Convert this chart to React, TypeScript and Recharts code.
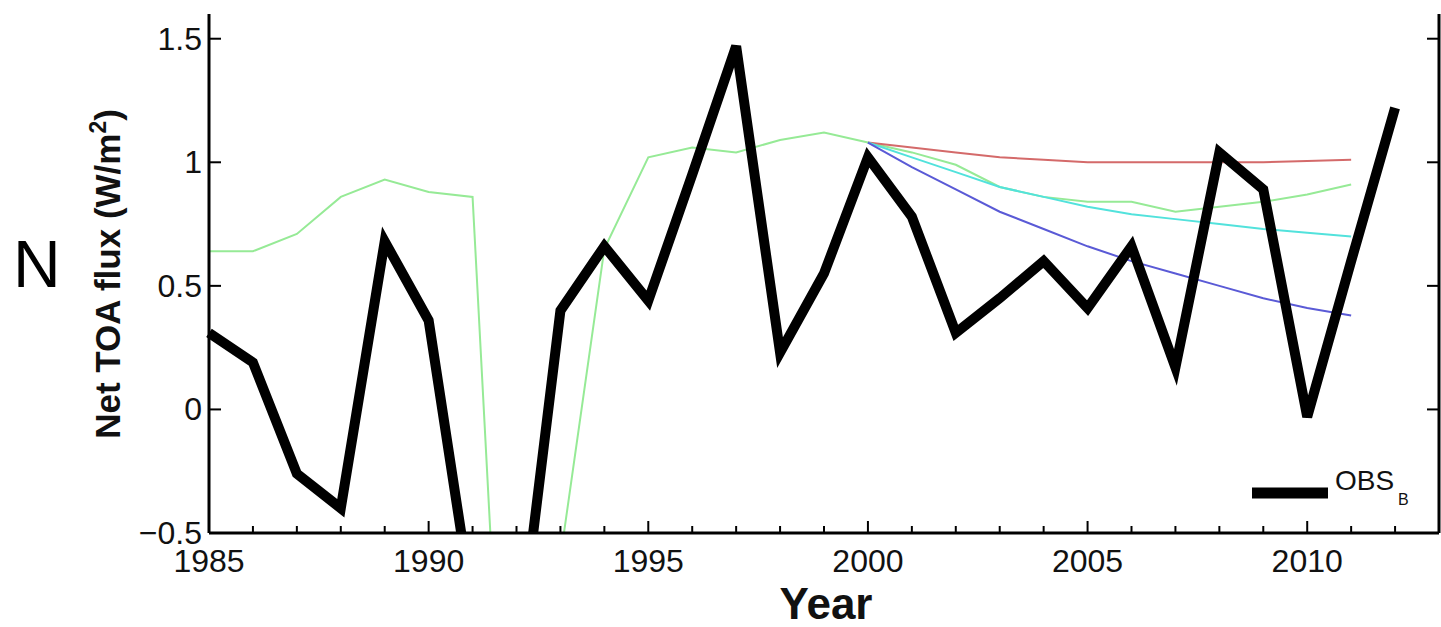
import { LineChart, Line, XAxis, YAxis } from "recharts"

// observed net TOA flux, yearly 1985..2012
const years = [
  1985, 1986, 1987, 1988, 1989, 1990, 1991, 1992, 1993, 1994, 1995, 1996, 1997, 1998,
  1999, 2000, 2001, 2002, 2003, 2004, 2005, 2006, 2007, 2008, 2009, 2010, 2011, 2012,
]
const obsB = [
  0.31, 0.19, -0.26, -0.4, 0.68, 0.36, -0.8, -1.05, 0.4, 0.66, 0.44, 0.95, 1.47, 0.23,
  0.55, 1.02, 0.78, 0.31, 0.45, 0.6, 0.41, 0.66, 0.17, 1.04, 0.89, -0.03, 0.6, 1.22,
]

// model run, 1985..2011
const greenYears = years.slice(0, 27)
const greenRun = [
  0.64, 0.64, 0.71, 0.86, 0.93, 0.88, 0.86, -2.5, -0.6, 0.65, 1.02, 1.06, 1.04, 1.09,
  1.12, 1.08, 1.04, 0.99, 0.9, 0.86, 0.84, 0.84, 0.8, 0.82, 0.84, 0.87, 0.91,
]

// projections from 2000 to 2011
const projYears = [2000, 2001, 2002, 2003, 2004, 2005, 2006, 2007, 2008, 2009, 2010, 2011]
const redRun = [1.08, 1.06, 1.04, 1.02, 1.01, 1.0, 1.0, 1.0, 1.0, 1.0, 1.005, 1.01]
const cyanRun = [1.08, 1.02, 0.96, 0.9, 0.86, 0.82, 0.79, 0.77, 0.75, 0.73, 0.715, 0.7]
const blueRun = [1.08, 0.98, 0.89, 0.8, 0.73, 0.66, 0.6, 0.55, 0.5, 0.45, 0.41, 0.38]

const xTicks = [...years, 2013]
const yTicks = [-0.5, 0, 0.5, 1, 1.5]

const pick = (ys: number[], vals: number[], y: number) => {
  const i = ys.indexOf(y)
  return i < 0 ? null : vals[i]
}

const data = years.map((year, i) => ({
  year,
  obs: obsB[i],
  green: pick(greenYears, greenRun, year),
  red: pick(projYears, redRun, year),
  cyan: pick(projYears, cyanRun, year),
  blue: pick(projYears, blueRun, year),
}))

const FONT = "'Liberation Sans', Arial, sans-serif"

function fmtY(v: number) {
  return v < 0 ? "\u2212" + Math.abs(v) : String(v)
}

function BottomTick(props: any) {
  const { x, y, payload } = props
  const major = payload.value % 5 === 0
  return (
    <g>
      <line x1={x} x2={x} y1={y} y2={y - (major ? 12 : 7)} stroke="#000" strokeWidth={2} />
      {major && payload.value < 2013 && (
        <text x={x} y={y + 39} textAnchor="middle" fontSize={32} fontFamily={FONT} fill="#111">
          {payload.value}
        </text>
      )}
    </g>
  )
}

function TopTick(props: any) {
  const { x, y, payload } = props
  const major = payload.value % 5 === 0
  return <line x1={x} x2={x} y1={y} y2={y + (major ? 13 : 8)} stroke="#000" strokeWidth={2} />
}

function LeftTick(props: any) {
  const { x, y, payload } = props
  return (
    <g>
      <line x1={x} x2={x + 12} y1={y} y2={y} stroke="#000" strokeWidth={2} />
      <text x={x - 7} y={y} textAnchor="end" dominantBaseline="central" fontSize={32} fontFamily={FONT} fill="#111">
        {fmtY(payload.value)}
      </text>
    </g>
  )
}

function RightTick(props: any) {
  const { x, y } = props
  return <line x1={x} x2={x - 12} y1={y} y2={y} stroke="#000" strokeWidth={2} />
}

export default function App() {
  return (
    <div style={{ position: "relative", width: 1441, height: 627, background: "#fff" }}>
      <style>{"body{margin:0}"}</style>
      <LineChart width={1441} height={627} data={data} margin={{ top: 14, right: 0, bottom: 0, left: 0 }}>
        <XAxis
          dataKey="year"
          type="number"
          domain={[1985, 2013]}
          ticks={xTicks}
          interval={0}
          height={94}
          tickSize={0}
          tickMargin={0}
          tickLine={false}
          axisLine={{ stroke: "#000", strokeWidth: 3 }}
          tick={<BottomTick />}
        />
        <XAxis
          xAxisId="top"
          orientation="top"
          dataKey="year"
          type="number"
          domain={[1985, 2013]}
          ticks={xTicks}
          interval={0}
          height={0}
          tickSize={0}
          tickMargin={0}
          tickLine={false}
          axisLine={{ stroke: "#000", strokeWidth: 3 }}
          tick={<TopTick />}
        />
        <YAxis
          type="number"
          domain={[-0.5, 1.6]}
          ticks={yTicks}
          allowDataOverflow
          width={209}
          tickSize={0}
          tickMargin={0}
          tickLine={false}
          axisLine={{ stroke: "#000", strokeWidth: 3 }}
          tick={<LeftTick />}
        />
        <YAxis
          yAxisId="right"
          orientation="right"
          type="number"
          domain={[-0.5, 1.6]}
          ticks={yTicks}
          allowDataOverflow
          width={2}
          tickSize={0}
          tickMargin={0}
          tickLine={false}
          axisLine={{ stroke: "#000", strokeWidth: 3 }}
          tick={<RightTick />}
        />
        <Line dataKey="green" stroke="#96ea96" strokeWidth={2} dot={false} isAnimationActive={false} />
        <Line dataKey="red" stroke="#d46a6a" strokeWidth={2} dot={false} isAnimationActive={false} />
        <Line dataKey="cyan" stroke="#52e2dc" strokeWidth={2} dot={false} isAnimationActive={false} />
        <Line dataKey="blue" stroke="#5a5ad6" strokeWidth={2} dot={false} isAnimationActive={false} />
        <Line
          dataKey="obs"
          stroke="#000"
          strokeWidth={10}
          strokeLinejoin="miter"
          dot={false}
          isAnimationActive={false}
        />
      </LineChart>
      <svg
        width={1441}
        height={627}
        style={{ position: "absolute", left: 0, top: 0, pointerEvents: "none" }}
      >
        <text x={13} y={287} fontSize={66} fontFamily={FONT} fill="#000">
          N
        </text>
        <text
          x={120}
          y={274}
          transform="rotate(-90 120 274)"
          textAnchor="middle"
          fontSize={35}
          fontWeight="bold"
          fontFamily={FONT}
          fill="#111"
        >
          Net TOA flux (W/m
          <tspan dy={-14} fontSize={23}>2</tspan>
          <tspan dy={14}>)</tspan>
        </text>
        <text x={826} y={619} textAnchor="middle" fontSize={44} fontWeight="bold" fontFamily={FONT} fill="#111">
          Year
        </text>
        <line x1={1252} x2={1328} y1={493} y2={493} stroke="#000" strokeWidth={11} />
        <text x={1335} y={490} fontSize={28} fontFamily={FONT} fill="#111">
          OBS
        </text>
        <text x={1398} y={505} fontSize={16} fontFamily={FONT} fill="#111">
          B
        </text>
      </svg>
    </div>
  )
}
